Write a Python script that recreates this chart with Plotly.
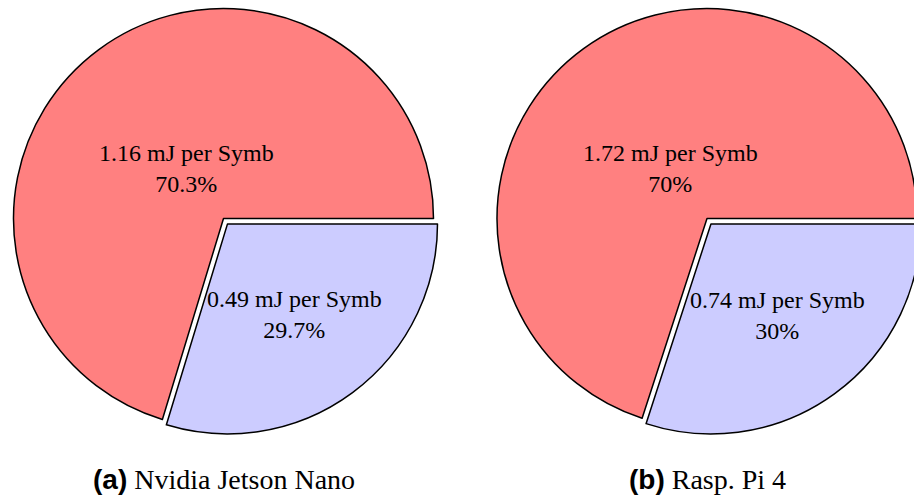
import math
import plotly.graph_objects as go

# Energy per symbol split (mJ) and the matching share of the total (%)
platforms = ["Nvidia Jetson Nano", "Rasp. Pi 4"]
tags = ["(a)", "(b)"]
energy_mj = [[1.16, 0.49], [1.72, 0.74]]
share_pct = [[70.3, 29.7], [70, 30]]
slice_colors = ["#FF8080", "#CCCCFF"]

# Layout (pixels)
W, H = 924, 500
centers = [(223.5, 218.5), (707.0, 218.5)]
R = 210.0
PULL = 0.032
label_r = [62, 113]
caption_y = 479
SERIF = "Liberation Serif, Times New Roman, serif"
SANS = "Liberation Sans, Arial, sans-serif"

fig = go.Figure()
annotations = []
box = 2 * R * (1 + PULL)

for k, (cx, cy) in enumerate(centers):
    total = sum(share_pct[k])
    first_span = 360.0 * share_pct[k][0] / total
    # first slice runs counterclockwise from 3 o'clock; expressed as a clockwise
    # pie whose first slice ends at 3 o'clock
    fig.add_trace(go.Pie(
        values=share_pct[k],
        labels=["a", "b"],
        sort=False,
        direction="clockwise",
        rotation=(90 - first_span) % 360,
        pull=[0, PULL],
        marker=dict(colors=slice_colors, line=dict(color="black", width=1.5)),
        textinfo="none",
        hoverinfo="skip",
        showlegend=False,
        domain=dict(
            x=[(cx - box / 2) / W, (cx + box / 2) / W],
            y=[1 - (cy + box / 2) / H, 1 - (cy - box / 2) / H],
        ),
    ))

    start = 0.0
    for j, (e, p) in enumerate(zip(energy_mj[k], share_pct[k])):
        span = 360.0 * p / total
        mid = math.radians(start + span / 2)
        start += span
        ox, oy = cx, cy
        if j == 1:
            ox += PULL * R * math.cos(mid)
            oy -= PULL * R * math.sin(mid)
        lx = ox + label_r[j] * math.cos(mid)
        ly = oy - label_r[j] * math.sin(mid)
        annotations.append(dict(
            x=lx / W, y=1 - ly / H, xref="paper", yref="paper",
            xanchor="center", yanchor="middle", showarrow=False,
            text=f"{e:.2f} mJ per Symb<br>{p:g}%",
            font=dict(family=SERIF, size=24, color="black"),
        ))

    annotations.append(dict(
        x=cx / W, y=1 - caption_y / H, xref="paper", yref="paper",
        xanchor="center", yanchor="middle", showarrow=False,
        text=f'<span style="font-family:{SANS}"><b>{tags[k]}</b></span> {platforms[k]}',
        font=dict(family=SERIF, size=28, color="black"),
    ))

fig.update_layout(
    width=W, height=H,
    margin=dict(l=0, r=0, t=0, b=0),
    paper_bgcolor="white", plot_bgcolor="white",
    annotations=annotations,
)

fig.write_html(
    "out.html",
    post_script="document.body.style.margin='0';document.body.style.overflow='hidden';",
)
